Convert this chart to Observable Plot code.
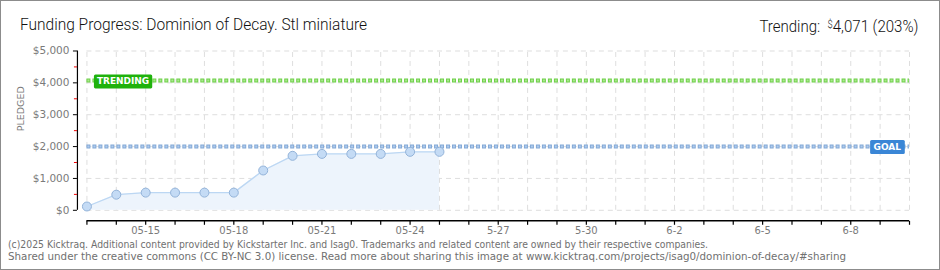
<!DOCTYPE html>
<html><head><meta charset="utf-8">
<script src="https://cdn.jsdelivr.net/npm/d3@7"></script>
<script src="https://cdn.jsdelivr.net/npm/@observablehq/plot@0.6"></script>
<style>
html,body{margin:0;padding:0;background:#fff;}
#wrap{position:relative;width:938px;height:268px;border:1px solid #8c8c8c;overflow:hidden;background:#fff;}
#title{position:absolute;left:19px;top:14px;font:300 16px Roboto,sans-serif;line-height:20px;color:#111;white-space:nowrap;transform-origin:0 0;}
#trend{position:absolute;right:21px;top:14px;font:300 16px Roboto,sans-serif;line-height:20px;color:#111;white-space:nowrap;transform-origin:100% 0;}
#trend .sup{font-size:10px;vertical-align:4px;}
#chart{position:absolute;left:-1px;top:37px;}
.foot{position:absolute;left:7px;font:10px "DejaVu Sans",sans-serif;color:#707070;white-space:nowrap;transform-origin:0 0;line-height:12px;}
</style></head>
<body>
<div id="wrap">
  <div id="title">Funding Progress: Dominion of Decay. Stl miniature</div>
  <div id="trend">Trending:&nbsp; <span class="sup">$</span>4,071 (203%)</div>
  <div id="chart"></div>
  <div class="foot" id="f1" style="top:238px">(c)2025 Kicktraq. Additional content provided by Kickstarter Inc. and Isag0. Trademarks and related content are owned by their respective companies.</div>
  <div class="foot" id="f2" style="top:250px">Shared under the creative commons (CC BY-NC 3.0) license. Read more about sharing this image at www.kicktraq.com/projects/isag0/dominion-of-decay/#sharing</div>
</div>
<script>
const dates = ["2025-05-13","2025-05-14","2025-05-15","2025-05-16","2025-05-17","2025-05-18","2025-05-19","2025-05-20","2025-05-21","2025-05-22","2025-05-23","2025-05-24","2025-05-25"];
const pledged = [120, 490, 555, 555, 555, 555, 1250, 1710, 1770, 1770, 1770, 1835, 1835];
const goal = 2000;
const trending = 4071;
const yTicks = [0, 1000, 2000, 3000, 4000, 5000];
const yTickLabels = ["$0", "$1,000", "$2,000", "$3,000", "$4,000", "$5,000"];
const yMinorTicks = [500, 1500, 2500, 3500, 4500];
const xStart = "2025-05-13", xEnd = "2025-06-10";
const xLabelDates = ["2025-05-15","2025-05-18","2025-05-21","2025-05-24","2025-05-27","2025-05-30","2025-06-02","2025-06-05","2025-06-08"];
const xTickLabels = ["05-15","05-18","05-21","05-24","5-27","5-30","6-2","6-5","6-8"];

const P = s => new Date(s + "T00:00:00Z");
const data = dates.map((d, i) => ({date: P(d), value: pledged[i]}));
const x0 = P(xStart), x1 = P(xEnd);
const days = d3.utcDay.range(x0, d3.utcDay.offset(x1, 1));
const labelDates = xLabelDates.map(P);

const grid = {stroke: "#dedede", strokeDasharray: "5,4", strokeWidth: 1};
const chart = Plot.plot({
  width: 940, height: 196,
  marginLeft: 77, marginRight: 30, marginTop: 12.5, marginBottom: 13,
  x: {type: "utc", domain: [x0, x1], insetLeft: 9.5},
  y: {domain: [0, 5000], insetBottom: 11},
  style: {background: "transparent", overflow: "visible"},
  marks: [
    Plot.ruleX(days, {x: d => d, y1: 0, y2: 5000, ...grid}),
    Plot.ruleY(yTicks, {y: d => d, x1: x0, x2: x1, ...grid}),
    Plot.areaY(data, {x: "date", y: "value", fill: "#edf4fc"}),
    Plot.lineY(data, {x: "date", y: "value", stroke: "#bcd7f3", strokeWidth: 1.3}),
    Plot.ruleY([goal], {x1: x0, x2: x1, stroke: "#84a9d6", strokeWidth: 4, strokeDasharray: "4,2"}),
    Plot.ruleY([goal], {x1: x0, x2: x1, stroke: "#aecbee", strokeWidth: 2, strokeDasharray: "2,4", strokeDashoffset: -1}),
    Plot.ruleY([trending], {x1: x0, x2: x1, stroke: "#6fcf4a", strokeWidth: 4, strokeDasharray: "4,2"}),
    Plot.ruleY([trending], {x1: x0, x2: x1, stroke: "#a9ea8c", strokeWidth: 2, strokeDasharray: "2,4", strokeDashoffset: -1}),
    Plot.dot(data, {x: "date", y: "value", r: 4.5, fill: "#c4dbf5", stroke: "#92b2d8", strokeWidth: 1}),
    Plot.ruleX([x0], {y1: 0, y2: 5000, dx: -9.5, stroke: "#000", strokeWidth: 1.2}),
    Plot.axisY({ticks: yTicks, tickFormat: (d) => yTickLabels[yTicks.indexOf(d)], tickSize: 4, tickPadding: 4,
      fontSize: 10.5, fontFamily: "DejaVu Sans", fill: "#7a7a7a", stroke: "#000", label: null}),
    Plot.axisY({ticks: yMinorTicks, tickFormat: () => "", tickSize: 3, stroke: "#e00", label: null}),
    Plot.text(["PLEDGED"], {frameAnchor: "left", dx: -57, dy: -5, rotate: -90, fontSize: 9.5,
      fontFamily: "DejaVu Sans", fill: "#7a7a7a", letterSpacing: "0.5px"}),
    Plot.ruleY([0], {x1: x0, x2: x1, dy: 10.5, stroke: "#000", strokeWidth: 1.5}),
    Plot.axisX({ticks: days, tickFormat: () => "", tickSize: 4, label: null, stroke: "#000", strokeWidth: 1.2}),
    Plot.text(labelDates, {x: d => d, text: (d, i) => xTickLabels[i], frameAnchor: "bottom", dy: 10,
      lineAnchor: "middle", fontSize: 10, fontFamily: "DejaVu Sans", fill: "#7a7a7a"}),
    Plot.text([trending], {x: x0, y: d => d, text: () => "TRENDING", textAnchor: "start", dx: 10, dy: 1,
      fontSize: 9, fontFamily: "DejaVu Sans", fontWeight: "bold", fill: "#fff", className: "lbl-trend"}),
    Plot.text([goal], {x: x1, y: d => d, text: () => "GOAL", textAnchor: "end", dx: -8.5, dy: 0.5,
      fontSize: 9, fontFamily: "DejaVu Sans", fontWeight: "bold", fill: "#fff", className: "lbl-goal"})
  ]
});
document.getElementById("chart").appendChild(chart);

function boxes(cls, color, padX) {
  d3.select(chart).selectAll("g." + cls + " text").each(function() {
    const b = this.getBBox();
    const t = this.getAttribute("transform");
    d3.select(this.parentNode).insert("rect", () => this)
      .attr("x", b.x - padX).attr("y", b.y + b.height / 2 - 7).attr("width", b.width + 2 * padX).attr("height", 14)
      .attr("rx", 1.5).attr("fill", color).attr("transform", t);
  });
}
boxes("lbl-trend", "#1fb20c", 3);
boxes("lbl-goal", "#3a86d6", 3.5);

function fit(id, w) {
  const el = document.getElementById(id);
  const r = el.getBoundingClientRect().width;
  el.style.transform = "scaleX(" + (w / r) + ")";
}
fit("title", 347);
fit("trend", 159);
fit("f1", 700);
fit("f2", 838);
</script>
</body></html>
